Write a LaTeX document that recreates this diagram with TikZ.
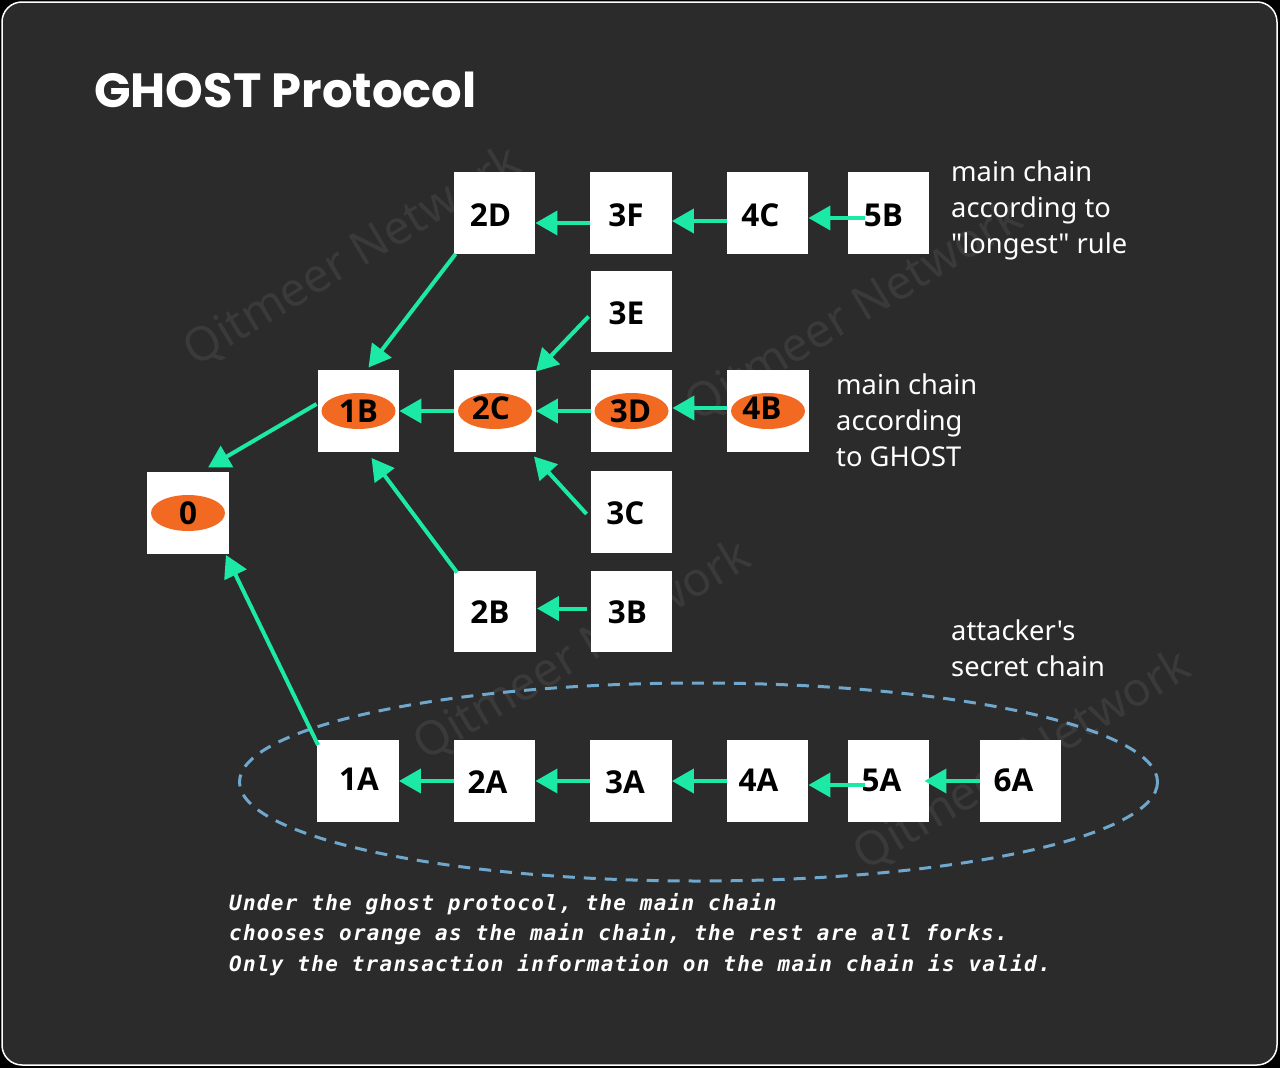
\documentclass[tikz,border=0pt]{standalone}
\usepackage{fontspec}
\newfontfamily\labelfont{Noto Sans}
\newfontfamily\blockfont{Open Sans}
\newfontfamily\titlefont{Poppins}
\newfontfamily\notefont[LetterSpace=6]{DejaVu Sans Mono}
\usetikzlibrary{arrows.meta,shapes.geometric}
\definecolor{panel}{HTML}{2B2B2B}
\definecolor{mint}{HTML}{1DE9A6}
\definecolor{mainorange}{HTML}{F26A21}
\definecolor{dashblue}{HTML}{6FA8CC}
\definecolor{wmark}{HTML}{3A3A3A}
\tikzset{font={\labelfont\fontsize{27.3pt}{36pt}\selectfont}}
\newcommand{\blocktext}[3]{\raisebox{#2}{#3}\hspace*{#1}}

\begin{document}
\begin{tikzpicture}[x=1pt,y=-1pt,>={Triangle[length=22pt,width=24pt]},node distance=136.5pt,
                    block/.style={rectangle,fill=white,minimum size=81.5pt,inner sep=0pt,text=black,text height=22.5pt,text depth=0pt,font=\blockfont\bfseries\fontsize{31.5pt}{36pt}\selectfont},
                    mainmark/.style={ellipse,fill=mainorange,minimum width=74pt,minimum height=36pt,inner sep=0pt,text=black,text height=22.5pt,text depth=0pt,font=\blockfont\bfseries\fontsize{31.5pt}{36pt}\selectfont},
                    chainlink/.style={->,mint,line width=4pt},
                    sidenote/.style={anchor=west,align=left,text=white,inner sep=0pt},
                    watermark/.style={text=wmark,rotate=31,font=\labelfont\fontsize{47pt}{50pt}\selectfont}]
  \useasboundingbox (0,0) rectangle (1280,1068);
  \fill[black] (0,0) rectangle (1280,1068);
  \draw[fill=panel,draw=white,line width=1.5pt,rounded corners=20pt] (2,2) rectangle (1277,1065);

  \node[watermark] (mark1) at (353,257) {Qitmeer Network};
  \node[watermark] (mark2) at (855,312) {Qitmeer Network};
  \node[watermark] (mark3) at (583,651) {Qitmeer Network};
  \node[watermark] (mark4) at (1023,761) {Qitmeer Network};

  \node[anchor=west,inner sep=0pt,text=white,font=\titlefont\bfseries\fontsize{48pt}{54pt}\selectfont] (title) at (94,90) {GHOST Protocol};

  \draw[dashblue,line width=3pt,dash pattern=on 12pt off 9pt] (698.5,782) ellipse (459 and 99);

  % upper chain
  \node[block] (5B) at (888.5,213) {\blocktext{10pt}{-2pt}{5B}};
  \node[block] (4C) [left of=5B,node distance=121pt] {\blocktext{14pt}{-2pt}{4C}};
  \node[block] (3F) [left of=4C] {\blocktext{10pt}{-2pt}{3F}};
  \node[block] (2D) [left of=3F] {\blocktext{8pt}{-2pt}{2D}};

  % main chain
  \node[block] (4B) at (768,411) {};
  \node[block] (3D) [left of=4B] {};
  \node[block] (2C) [left of=3D] {};
  \node[block] (1B) [left of=2C] {};
  \node[block] (0) at (188,513) {};
  \node[mainmark] (mark4B) at (4B) {\blocktext{12pt}{3pt}{4B}};
  \node[mainmark] (mark3D) at (3D) {\blocktext{2pt}{0pt}{3D}};
  \node[mainmark] (mark2C) at (2C) {\blocktext{8pt}{3pt}{2C}};
  \node[mainmark] (mark1B) at (1B) {1B};
  \node[mainmark] (mark0) at (0) {0};

  % side blocks
  \node[block] (3E) [above of=3D,node distance=99.5pt] {\blocktext{10pt}{-2pt}{3E}};
  \node[block] (3C) [below of=3D,node distance=101pt] {\blocktext{12pt}{-1pt}{3C}};
  \node[block] (3B) [below of=3C,node distance=99.5pt] {\blocktext{8pt}{-1pt}{3B}};
  \node[block] (2B) [left of=3B] {\blocktext{10pt}{-1pt}{2B}};

  % secret chain
  \node[block] (1A) at (358,781) {\blocktext{-2pt}{2pt}{1A}};
  \node[block] (2A) [right of=1A] {\blocktext{14pt}{-1pt}{2A}};
  \node[block] (3A) [right of=2A] {\blocktext{12pt}{-1pt}{3A}};
  \node[block] (4A) [right of=3A] {\blocktext{18pt}{1pt}{4A}};
  \node[block] (5A) [right of=4A,node distance=121pt] {\blocktext{14pt}{1pt}{5A}};
  \node[block] (6A) [right of=5A,node distance=132pt] {\blocktext{14pt}{1pt}{6A}};

  \path[chainlink]
    ([xshift=17pt,yshift=-5pt]5B.west) edge ([yshift=-5pt]4C.east)
    ([yshift=-8pt]4C.west) edge ([yshift=-8pt]3F.east)
    ([yshift=-10pt]3F.west) edge ([yshift=-10pt]2D.east)
    ([xshift=2pt]2D.south west) edge ([xshift=10pt,yshift=2.5pt]1B.north)
    ([xshift=-2pt,yshift=-5pt]3E.west) edge ([yshift=-1.5pt]2C.north east)
    ([yshift=3pt]4B.west) edge ([yshift=3pt]3D.east)
    (3D.west) edge (2C.east)
    (2C.west) edge (1B.east)
    ([xshift=-4pt,yshift=-2pt]3C.west) edge ([xshift=-2pt,yshift=-4.5pt]2C.south east)
    ([xshift=3pt,yshift=-2pt]2B.north west) edge ([xshift=13pt,yshift=-6pt]1B.south)
    ([xshift=-4pt,yshift=3pt]3B.west) edge ([xshift=1pt,yshift=3pt]2B.east)
    ([xshift=-1pt,yshift=7pt]1B.west) edge ([xshift=20pt,yshift=4.5pt]0.north)
    ([xshift=1pt,yshift=-5pt]1A.north west) edge ([xshift=-3pt,yshift=-1pt]0.south east)
    (2A.west) edge (1A.east)
    (3A.west) edge (2A.east)
    (4A.west) edge (3A.east)
    ([xshift=17pt,yshift=-4pt]5A.west) edge ([yshift=-4pt]4A.east)
    (6A.west) edge ([xshift=-5pt]5A.east);

  \node[sidenote] (longest) at (951,210) {main chain\\according to\\"longest" rule};
  \node[sidenote] (ghost) at (836,420) {main chain\\according\\to GHOST};
  \node[sidenote] (secret) at (951,648) {attacker's\\secret chain};

  \node[anchor=north west,align=left,text=white,inner sep=0pt,font=\notefont\bfseries\itshape\fontsize{21pt}{30.7pt}\selectfont] (caption) at (229,893)
    {Under the ghost protocol, the main chain\\chooses orange as the main chain, the rest are all forks.\\Only the transaction information on the main chain is valid.};
\end{tikzpicture}
\end{document}
